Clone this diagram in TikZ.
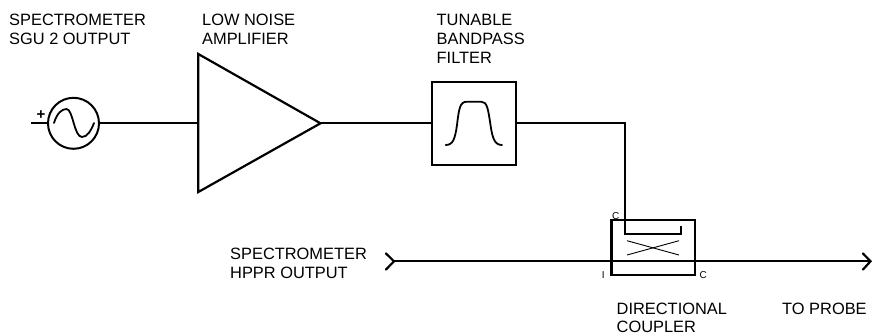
\documentclass[tikz,border=0pt]{standalone}
\usepackage{fontspec}
\setmainfont{Liberation Sans}
\begin{document}
\begin{tikzpicture}[x=1pt,y=-1pt,
  wire/.style={line width=2.2pt,black},
  curve/.style={line width=1.8pt,black,line cap=round},
  tip/.style={line width=2.2pt,black,line cap=round,line join=miter},
  lbl/.style={inner sep=0pt,align=left,anchor=north west,font=\fontsize{16.4}{19}\selectfont},
  tiny/.style={inner sep=0pt,font=\fontsize{10}{11}\selectfont}]
\useasboundingbox (0,0) rectangle (872,335);
% labels
\node[lbl] (l1) at (9,14.2) {SPECTROMETER\\SGU 2 OUTPUT};
\node[lbl] (l2) at (202,14.2) {LOW NOISE\\AMPLIFIER};
\node[lbl] (l3) at (436.5,14.2) {TUNABLE\\BANDPASS\\FILTER};
\node[lbl] (l4) at (230,248.2) {SPECTROMETER\\HPPR OUTPUT};
\node[lbl,font=\fontsize{16.4}{18.6}\selectfont] (l5) at (616.5,302.6) {DIRECTIONAL\\COUPLER};
\node[lbl] (l6) at (782,303.2) {TO PROBE};
% source
\node[circle,draw,line width=2pt,minimum size=51pt,inner sep=0pt] (src) at (73.5,123.3) {};
\draw[curve] (54,123) .. controls (57,113) and (62,109) .. (66.5,109) .. controls (73,109) and (74,137) .. (82,137) .. controls (87,137) and (91,131) .. (94,123);
\coordinate (srcin) at (31,123.3);
\draw[wire] (srcin) -- (src.west);
\node[inner sep=0pt,font=\fontsize{15}{15}\selectfont\bfseries] (plus) at (41,115) {+};
% amp
\coordinate (a1) at (198.3,54);
\coordinate (a2) at (198.3,192);
\coordinate (a3) at (320.5,123.3);
\draw[wire,line join=miter] (a1) -- (a3) -- (a2) -- cycle;
\draw[wire] (src.east) -- (198.3,123.3);
% filter
\node[draw,line width=2pt,minimum width=84pt,minimum height=83.5pt,inner sep=0pt] (flt) at (474,123.3) {};
\draw[curve] (445.7,145) .. controls (453,145) and (455,139) .. (457,125) .. controls (459,108) and (460,101.7) .. (467,101.7) -- (481,101.7) .. controls (487,101.7) and (488,108) .. (490.5,125) .. controls (492.5,139) and (495,145) .. (502,145);
\draw[wire] (a3) -- (flt.west);
% coupler
\node[draw,line width=2.2pt,minimum width=83.5pt,minimum height=55pt,inner sep=0pt] (cpl) at (653.3,247.5) {};
\coordinate (c1) at (625,233.7);
\coordinate (c2) at (680.7,233.7);
\coordinate (c3) at (680.7,226);
\draw[wire,line join=miter] (flt.east) -- (625,123.3) -- (c1) -- (c2) -- (c3);
\draw[line width=.9pt] (627,240.7) -- (679,255);
\draw[line width=.9pt] (627,255) -- (679,240.7);
% through line
\coordinate (t1) at (394,261.3);
\coordinate (t2) at (870.5,261.3);
\draw[wire] (t1) -- (t2);
\draw[tip] (386,253.5) -- (394,261.3) -- (386,269.5);
\draw[tip] (863,253.5) -- (870.5,261.3) -- (863,269.5);
\node[tiny] (pc) at (615.7,216) {C};
\node[tiny] (pi) at (603.3,275) {I};
\node[tiny] (pc2) at (703.3,275) {C};
\end{tikzpicture}
\end{document}
